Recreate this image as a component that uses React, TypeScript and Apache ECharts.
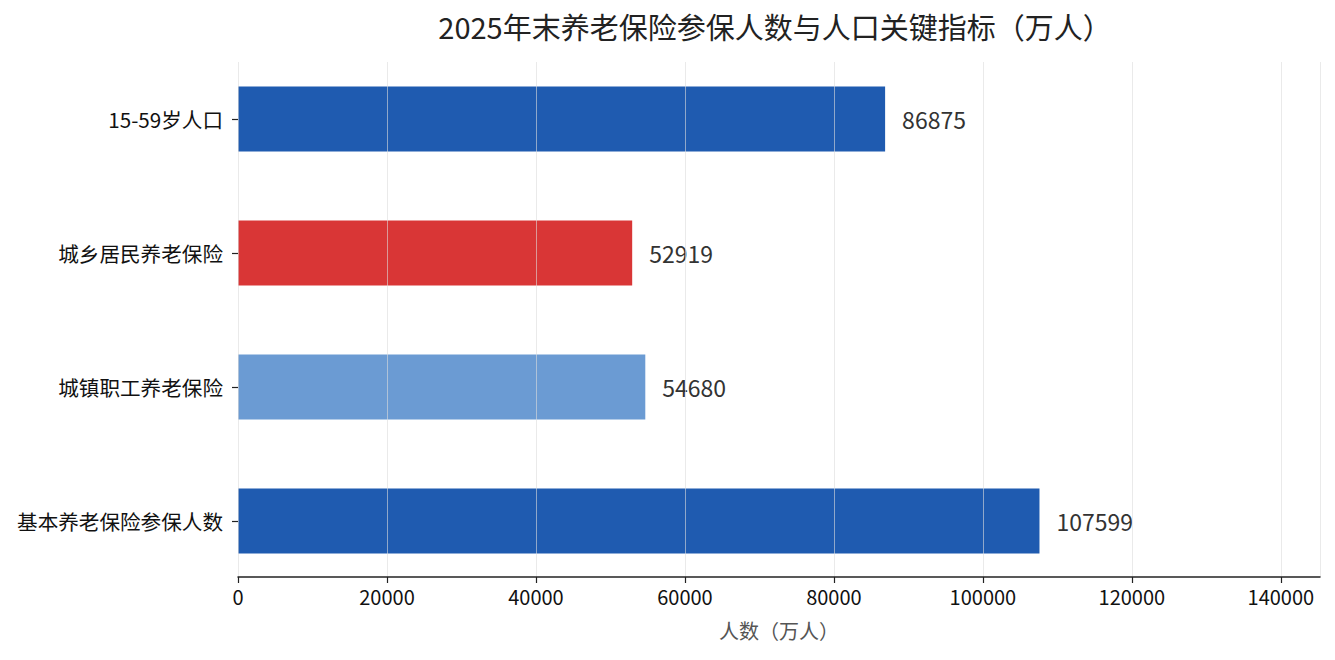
import React, { useEffect, useRef } from 'react';
import * as echarts from 'echarts';

const categories = ['基本养老保险参保人数', '城镇职工养老保险', '城乡居民养老保险', '15-59岁人口'];
const values = [107599, 54680, 52919, 86875];
const barColors = ['#1f5bb0', '#6b9bd3', '#d93636', '#1f5bb0'];
const xMax = 145259;

const FONT = '"Noto Sans CJK SC", "Noto Sans", sans-serif';

const App: React.FC = () => {
  const chartRef = useRef<HTMLDivElement>(null);

  useEffect(() => {
    document.body.style.margin = '0';
    if (!chartRef.current) return;
    const chart = echarts.init(chartRef.current, undefined, { renderer: 'svg' });
    chart.setOption({
      animation: false,
      backgroundColor: '#fff',
      textStyle: { fontFamily: FONT },
      title: {
        text: '2025年末养老保险参保人数与人口关键指标（万人）',
        left: 770,
        top: 6,
        textAlign: 'center',
        textStyle: { fontSize: 29, fontWeight: 'normal', color: '#222', fontFamily: FONT },
      },
      grid: [
        { left: 238, right: 15, top: 62, bottom: 83 },
        { left: 238, right: 15, top: 52, bottom: 72 },
      ],
      xAxis: [
        {
          type: 'value',
          gridIndex: 0,
          min: 0,
          max: xMax,
          interval: 20000,
          z: 5,
          name: '人数（万人）',
          nameLocation: 'middle',
          nameGap: 43,
          nameTextStyle: { fontSize: 20, color: '#555', fontFamily: FONT },
          axisLine: { show: true, lineStyle: { color: '#222', width: 1.5 } },
          axisTick: { show: true, length: 6, lineStyle: { color: '#222', width: 1.2 } },
          axisLabel: {
            fontSize: 20,
            color: '#111',
            margin: 9,
            showMaxLabel: false,
            formatter: (v: number) => String(v),
          },
          splitLine: { show: true, lineStyle: { color: 'rgba(220,220,220,0.6)', width: 1 } },
        },
        {
          type: 'value',
          gridIndex: 1,
          min: 0,
          max: xMax,
          show: false,
        },
      ],
      yAxis: [
        { type: 'value', gridIndex: 0, show: false },
        {
          type: 'category',
          gridIndex: 1,
          data: categories,
          axisLine: { show: false },
          axisTick: { show: true, alignWithLabel: true, length: 6, lineStyle: { color: '#222', width: 1.2 } },
          axisLabel: { fontSize: 20.6, color: '#111', margin: 15 },
          splitLine: { show: false },
        },
      ],
      series: [
        {
          type: 'bar',
          xAxisIndex: 1,
          yAxisIndex: 1,
          barWidth: 65,
          data: values.map((v, i) => ({ value: v, itemStyle: { color: barColors[i] } })),
          label: {
            show: true,
            position: 'right',
            distance: 17,
            fontSize: 23,
            color: '#333',
            fontFamily: FONT,
          },
        },
      ],
    });
    return () => chart.dispose();
  }, []);

  return <div ref={chartRef} style={{ width: 1335, height: 660 }} />;
};

export default App;
